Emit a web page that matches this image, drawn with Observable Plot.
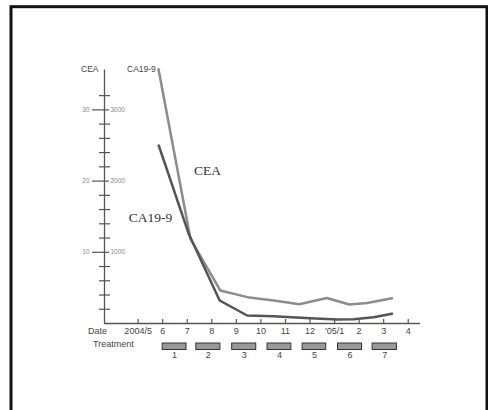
<!DOCTYPE html>
<html><head><meta charset="utf-8">
<script src="https://cdn.jsdelivr.net/npm/d3@7"></script>
<script src="https://cdn.jsdelivr.net/npm/@observablehq/plot@0.6"></script>
<style>body{margin:0;background:#fff;overflow:hidden}</style>
</head><body><div id="chart"></div>
<script>
// Month positions: index 0 = 2004/5
const monthLabels = ["2004/5","6","7","8","9","10","11","12","'05/1","2","3","4"];
// CEA (ng/mL) measurements
const ceaMonth = [0.83, 2.13, 3.35, 4.45, 5.6, 6.56, 7.69, 8.6, 9.33, 10.34];
const ceaValue = [35.7, 11.9, 4.63, 3.7, 3.2, 2.71, 3.58, 2.67, 2.88, 3.55];
// CA19-9 (U/mL) measurements
const caMonth = [0.84, 2.06, 3.32, 4.44, 5.5, 7.01, 8.1, 8.77, 9.59, 10.34];
const caValue = [2500, 1260, 323, 112, 103, 74, 56, 60, 88, 136];
// Treatment courses
const treatStart = [1.0, 2.37, 3.83, 5.27, 6.7, 8.14, 9.55];
const treatEnd = [1.97, 3.35, 4.81, 6.24, 7.66, 9.12, 10.54];
const treatLabels = ["1","2","3","4","5","6","7"];
// Axis ticks
const majorTicks = [10, 20, 30];
const caTickLabels = ["1000", "2000", "3000"];
const minorTicks = [2, 4, 6, 8, 12, 14, 16, 18, 22, 24, 26, 28, 32];
// Series labels
const seriesNames = ["CEA", "CA19-9"];
const seriesLabelMonth = [2.82, 0.5];
const seriesLabelValue = [21.5, 14.9];

const cea = ceaMonth.map((m, i) => ({m, v: ceaValue[i]}));
const ca = caMonth.map((m, i) => ({m, v: caValue[i] / 100}));
const months = monthLabels.map((label, i) => ({i, label}));
const treats = treatStart.map((s, i) => ({s, e: treatEnd[i], label: treatLabels[i]}));
const majors = majorTicks.map((v, i) => ({v, ca: caTickLabels[i]}));
const series = seriesNames.map((name, i) => ({name, m: seriesLabelMonth[i], v: seriesLabelValue[i]}));

const sans = "Liberation Sans, Arial, sans-serif";
const serif = "Liberation Serif, Times New Roman, serif";
const plotW = 316, plotH = 253.5;

const chart = Plot.plot({
  width: 488, height: 410,
  marginLeft: 104, marginRight: 68, marginTop: 69.5, marginBottom: 87,
  x: {domain: [-1.37, 11.5], axis: null},
  y: {domain: [0, 35.6], axis: null},
  style: {background: "#fff", fontFamily: sans},
  marks: [
    Plot.frame({stroke: "#111", strokeWidth: 3, insetLeft: -93.5, insetTop: -63.3, insetRight: -66.5, insetBottom: -100}),
    // axes
    Plot.ruleX([-1.37], {stroke: "#555", strokeWidth: 1.3}),
    Plot.ruleY([0], {stroke: "#555", strokeWidth: 1.3}),
    Plot.tickY(minorTicks, {stroke: "#555", strokeWidth: 1.2, insetLeft: -5, insetRight: plotW - 6}),
    Plot.tickY(majors, {y: "v", stroke: "#555", strokeWidth: 1.2, insetLeft: -12, insetRight: plotW - 5}),
    Plot.text(majors, {y: "v", text: d => String(d.v), frameAnchor: "left", dx: -15, textAnchor: "end", fontSize: 6.5, fill: "#888"}),
    Plot.text(majors, {y: "v", text: "ca", frameAnchor: "left", dx: 6, textAnchor: "start", fontSize: 6.5, fill: "#888"}),
    Plot.text(["CEA"], {frameAnchor: "top-left", dx: -23.5, dy: -4.5, fontSize: 8.5, fill: "#444"}),
    Plot.text(["CA19-9"], {frameAnchor: "top-left", dx: 22.5, dy: -4.5, fontSize: 8.5, fill: "#444"}),
    Plot.tickX(months, {x: "i", stroke: "#555", strokeWidth: 1.2, insetTop: plotH - 4}),
    Plot.text(months, {x: "i", text: "label", frameAnchor: "bottom", dy: 10.5, fontSize: 9, fill: "#444"}),
    Plot.text(["Date"], {frameAnchor: "bottom-left", dx: -16.5, dy: 10.5, fontSize: 9, fill: "#444"}),
    Plot.text(["Treatment"], {frameAnchor: "bottom-left", dx: -11.5, dy: 23.5, fontSize: 9, fill: "#444"}),
    // treatment courses
    Plot.rect(treats, {x1: "s", x2: "e", fill: "#999", stroke: "#333", strokeWidth: 1, insetTop: plotH + 20, insetBottom: -26.5}),
    Plot.text(treats, {x: d => (d.s + d.e) / 2, text: "label", frameAnchor: "bottom", dy: 34, fontSize: 9, fill: "#444"}),
    // series
    Plot.line(cea, {x: "m", y: "v", stroke: "#8c8c8c", strokeWidth: 2.5, strokeLinejoin: "round"}),
    Plot.line(ca, {x: "m", y: "v", stroke: "#555", strokeWidth: 2.5, strokeLinejoin: "round"}),
    Plot.text(series, {x: "m", y: "v", text: "name", fontFamily: serif, fontSize: 13.5, fill: "#333"})
  ]
});
document.getElementById("chart").append(chart);
</script>
</body></html>
